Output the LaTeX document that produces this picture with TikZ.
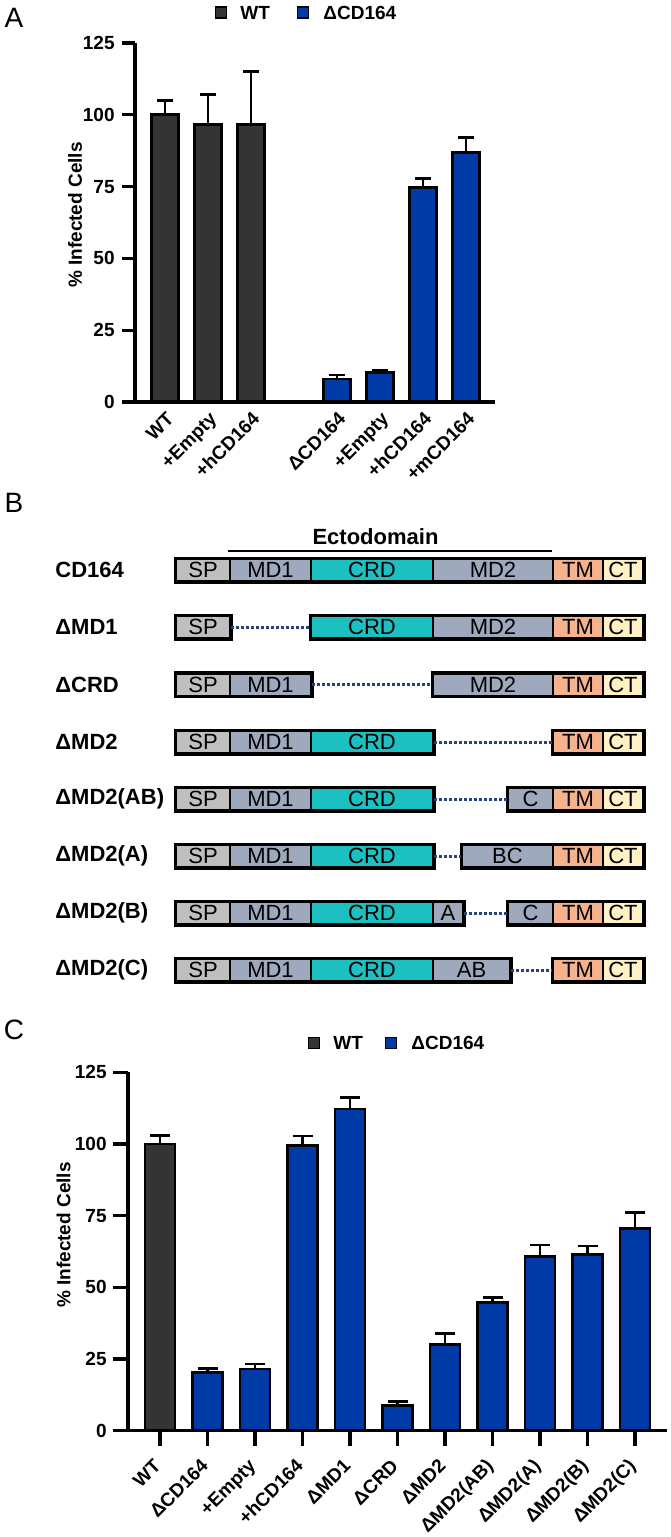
\documentclass[tikz,border=0pt]{standalone}
\usepackage{fontspec}
\setmainfont{Liberation Sans}
\definecolor{wtgray}{RGB}{52,52,52}
\definecolor{koblue}{RGB}{0,58,166}
\definecolor{spgray}{RGB}{191,191,191}
\definecolor{mdslate}{RGB}{158,169,190}
\definecolor{crdteal}{RGB}{29,192,192}
\definecolor{tmsalmon}{RGB}{245,178,140}
\definecolor{ctcream}{RGB}{255,241,196}
\definecolor{gapblue}{RGB}{40,64,125}
\newcommand\chartfont{\fontsize{9.5}{11}\selectfont\bfseries}
\newcommand\domfont{\fontsize{11}{13}\selectfont}
\newcommand\rowfont{\fontsize{11}{13}\selectfont\bfseries}
\newcommand\panelfont{\fontsize{14}{16}\selectfont}
\begin{document}
\begin{tikzpicture}[x=0.5pt, y=-0.5pt,
    ax/.style={line width=1.6pt},
    bar/.style={draw=black, line width=1.4pt},
    err/.style={line width=1.4pt},
    ticklab/.style={font=\chartfont, inner sep=0pt, anchor=east},
    xlab/.style={font=\chartfont, inner sep=0pt, anchor=base east, rotate=45},
    ylab/.style={font=\chartfont, inner sep=0pt, rotate=90},
    legbox/.style={draw=black, line width=0.8pt, minimum size=5.5pt, inner sep=0pt},
    legtext/.style={font=\chartfont, inner sep=0pt, anchor=west},
    panel/.style={font=\panelfont, inner sep=0pt},
    seg/.style={draw=black, line width=1pt, minimum height=11pt, inner sep=0pt, font=\domfont, anchor=west},
    rowlab/.style={font=\rowfont, inner sep=0pt, anchor=west},
    block/.style={line width=1.5pt},
    gap/.style={draw=gapblue, line width=1.5pt, dash pattern=on 1.3pt off 1.2pt}]
  \useasboundingbox (0,0) rectangle (670,1537);

  \node[panel] (pa) at (14,18) {A};
  \node[legbox, fill=wtgray] (lwa) at (221,12.5) {};
  \node[legtext] (lwta) at (240,12.5) {WT};
  \node[legbox, fill=koblue] (lka) at (303,12.5) {};
  \node[legtext] (lkta) at (323,12.5) {ΔCD164};
  \node[ylab] (yla) at (75,215) {\% Infected Cells};
  \begin{scope}[shift={(0,402)}, y=1.436pt]
    \foreach \i/\c/\v/\e in {0/wtgray/100/105, 1/wtgray/96.5/107.2, 2/wtgray/96.5/115.2,
        4/koblue/8/9.4, 5/koblue/10.2/10.9, 6/koblue/74.6/77.9, 7/koblue/86.8/92.2} {
      \draw[err] ({165+43*\i},\v) -- ({165+43*\i},\e);
      \draw[err] ({157+43*\i},\e) -- ({173+43*\i},\e);
      \draw[bar, fill=\c] ({151.5+43*\i},0) rectangle ({178.5+43*\i},\v);
    }
    \draw[ax] (135,125) -- (135,0);
    \draw[ax] (122,0) -- (495,0);
    \foreach \v in {0,25,...,125} {
      \draw[ax] (122,\v) -- (135,\v);
      \node[ticklab] (ta\v) at (115,\v) {\v};
    }
  \end{scope}
  \foreach \i/\t in {0/WT, 1/+Empty, 2/+hCD164, 4/ΔCD164, 5/+Empty, 6/+hCD164, 7/+mCD164}
    \node[xlab] (xa\i) at ({175+43*\i},420) {\t};

  \node[panel] (pb) at (14,503) {B};
  \node[font=\rowfont, inner sep=0pt] (ecto) at (375.5,537) {Ectodomain};
  \coordinate (el) at (228,551);
  \coordinate (er) at (552,551);
  \draw[line width=1pt] (el) -- (er);
  \foreach \r/\y/\t in {1/570/CD164, 2/627/ΔMD1, 3/684.5/ΔCRD, 4/742/ΔMD2,
      5/799/ΔMD2(AB), 6/856/ΔMD2(A), 7/913/ΔMD2(B), 8/970/ΔMD2(C)}
    \node[rowlab] (row\r) at (55,\y) {\t};

  \foreach \n/\a/\b/\c/\t in {sp/175/229/spgray/SP, mda/229/310/mdslate/MD1, crd/310/432/crdteal/CRD,
      mdb/432/552/mdslate/MD2, tm/552/602/tmsalmon/TM, ct/602/642/ctcream/CT}
    \node[seg, fill=\c, minimum width={(\b-\a)*0.5pt}] (\n1) at (\a,570) {\t};
  \draw[block] (sp1.north west) rectangle (ct1.south east);

  \foreach \n/\a/\b/\c/\t in {sp/175/229/spgray/SP, crd/310/432/crdteal/CRD,
      mdb/432/552/mdslate/MD2, tm/552/602/tmsalmon/TM, ct/602/642/ctcream/CT}
    \node[seg, fill=\c, minimum width={(\b-\a)*0.5pt}] (\n2) at (\a,627) {\t};
  \draw[block] (sp2.north west) rectangle (sp2.south east);
  \draw[block] (crd2.north west) rectangle (ct2.south east);
  \draw[gap] (sp2.east) -- (crd2.west);

  \foreach \n/\a/\b/\c/\t in {sp/175/229/spgray/SP, mda/229/310/mdslate/MD1,
      mdb/432/552/mdslate/MD2, tm/552/602/tmsalmon/TM, ct/602/642/ctcream/CT}
    \node[seg, fill=\c, minimum width={(\b-\a)*0.5pt}] (\n3) at (\a,684.5) {\t};
  \draw[block] (sp3.north west) rectangle (mda3.south east);
  \draw[block] (mdb3.north west) rectangle (ct3.south east);
  \draw[gap] (mda3.east) -- (mdb3.west);

  \foreach \n/\a/\b/\c/\t in {sp/175/229/spgray/SP, mda/229/310/mdslate/MD1, crd/310/432/crdteal/CRD,
      tm/552/602/tmsalmon/TM, ct/602/642/ctcream/CT}
    \node[seg, fill=\c, minimum width={(\b-\a)*0.5pt}] (\n4) at (\a,742) {\t};
  \draw[block] (sp4.north west) rectangle (crd4.south east);
  \draw[block] (tm4.north west) rectangle (ct4.south east);
  \draw[gap] (crd4.east) -- (tm4.west);

  \foreach \n/\a/\b/\c/\t in {sp/175/229/spgray/SP, mda/229/310/mdslate/MD1, crd/310/432/crdteal/CRD,
      mdb/507/552/mdslate/C, tm/552/602/tmsalmon/TM, ct/602/642/ctcream/CT}
    \node[seg, fill=\c, minimum width={(\b-\a)*0.5pt}] (\n5) at (\a,799) {\t};
  \draw[block] (sp5.north west) rectangle (crd5.south east);
  \draw[block] (mdb5.north west) rectangle (ct5.south east);
  \draw[gap] (crd5.east) -- (mdb5.west);

  \foreach \n/\a/\b/\c/\t in {sp/175/229/spgray/SP, mda/229/310/mdslate/MD1, crd/310/432/crdteal/CRD,
      mdb/461/552/mdslate/BC, tm/552/602/tmsalmon/TM, ct/602/642/ctcream/CT}
    \node[seg, fill=\c, minimum width={(\b-\a)*0.5pt}] (\n6) at (\a,856) {\t};
  \draw[block] (sp6.north west) rectangle (crd6.south east);
  \draw[block] (mdb6.north west) rectangle (ct6.south east);
  \draw[gap] (crd6.east) -- (mdb6.west);

  \foreach \n/\a/\b/\c/\t in {sp/175/229/spgray/SP, mda/229/310/mdslate/MD1, crd/310/432/crdteal/CRD,
      mdx/432/462/mdslate/A, mdb/507/552/mdslate/C, tm/552/602/tmsalmon/TM, ct/602/642/ctcream/CT}
    \node[seg, fill=\c, minimum width={(\b-\a)*0.5pt}] (\n7) at (\a,913) {\t};
  \draw[block] (sp7.north west) rectangle (mdx7.south east);
  \draw[block] (mdb7.north west) rectangle (ct7.south east);
  \draw[gap] (mdx7.east) -- (mdb7.west);

  \foreach \n/\a/\b/\c/\t in {sp/175/229/spgray/SP, mda/229/310/mdslate/MD1, crd/310/432/crdteal/CRD,
      mdx/432/509/mdslate/AB, tm/552/602/tmsalmon/TM, ct/602/642/ctcream/CT}
    \node[seg, fill=\c, minimum width={(\b-\a)*0.5pt}] (\n8) at (\a,970) {\t};
  \draw[block] (sp8.north west) rectangle (mdx8.south east);
  \draw[block] (tm8.north west) rectangle (ct8.south east);
  \draw[gap] (mdx8.east) -- (tm8.west);

  \node[panel] (pc) at (14,1030) {C};
  \node[legbox, fill=wtgray] (lwc) at (314,1043) {};
  \node[legtext] (lwtc) at (333,1043) {WT};
  \node[legbox, fill=koblue] (lkc) at (391,1043) {};
  \node[legtext] (lktc) at (411,1043) {ΔCD164};
  \node[ylab] (ylc) at (63.5,1235) {\% Infected Cells};
  \begin{scope}[shift={(0,1430.7)}, y=1.4335pt]
    \foreach \i/\c/\v/\e in {0/wtgray/100/102.9, 1/koblue/20.4/21.6, 2/koblue/21.5/23.3,
        3/koblue/99.6/102.8, 4/koblue/112.2/116.3, 5/koblue/8.7/10.1, 6/koblue/30.1/34,
        7/koblue/44.8/46.5, 8/koblue/60.9/64.8, 9/koblue/61.5/64.4, 10/koblue/70.6/76.2} {
      \draw[err] ({160+47.5*\i},\v) -- ({160+47.5*\i},\e);
      \draw[err] ({150+47.5*\i},\e) -- ({170+47.5*\i},\e);
      \draw[bar, fill=\c] ({145+47.5*\i},0) rectangle ({175+47.5*\i},\v);
    }
    \draw[ax] (128,125) -- (128,0);
    \draw[ax] (113,0) -- (667,0);
    \foreach \v in {0,25,...,125} {
      \draw[ax] (113,\v) -- (128,\v);
      \node[ticklab] (tc\v) at (107,\v) {\v};
    }
  \end{scope}
  \foreach \i/\t in {0/WT, 1/ΔCD164, 2/+Empty, 3/+hCD164, 4/ΔMD1, 5/ΔCRD, 6/ΔMD2,
      7/ΔMD2(AB), 8/ΔMD2(A), 9/ΔMD2(B), 10/ΔMD2(C)} {
    \draw[ax] ({160+47.5*\i},1431) -- ({160+47.5*\i},1446);
    \node[xlab] (xc\i) at ({162+47.5*\i},1467) {\t};
  }
\end{tikzpicture}
\end{document}
